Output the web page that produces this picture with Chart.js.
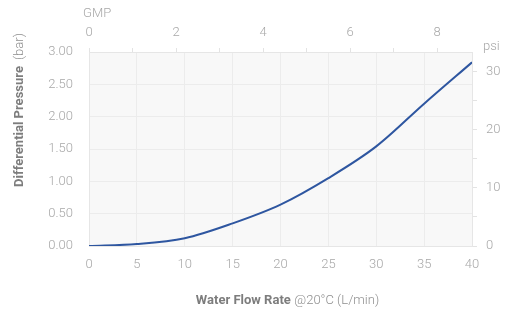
<!DOCTYPE html>
<html><head><meta charset="utf-8">
<script src="https://cdn.jsdelivr.net/npm/chart.js@4.4.1/dist/chart.umd.min.js"></script>
<style>html,body{margin:0;padding:0;background:#fff}#wrap{position:relative;width:514px;height:315px}</style>
</head><body><div id="wrap"><canvas id="c" width="514" height="315"></canvas></div>
<script>
const flowLpm = [0, 5, 10, 15, 20, 25, 30, 35, 40];
const pressureBar = [0, 0.03, 0.12, 0.35, 0.64, 1.05, 1.54, 2.20, 2.84];
const barTicks = [0, 0.5, 1, 1.5, 2, 2.5, 3];
const gmpMax = 8.8;
const psiMax = 33.4;

const FONT = 'Roboto, "Noto Sans", sans-serif';
const tickColor = '#a8a8a8';
const gridColor = '#ececec';
const tickFont = {family: FONT, size: 13, weight: 300};

const extras = {
  id: 'extras',
  beforeDraw(chart) {
    const {ctx, chartArea: a} = chart;
    ctx.save();
    ctx.fillStyle = '#f8f8f8';
    ctx.fillRect(a.left, a.top, a.right - a.left, a.bottom - a.top);
    ctx.restore();
  },
  afterDraw(chart) {
    const ctx = chart.ctx;
    ctx.save();
    ctx.font = '300 13px ' + FONT;
    ctx.fillStyle = tickColor;
    ctx.textBaseline = 'middle';
    ctx.textAlign = 'left';
    ctx.fillText('GMP', 83, 14);
    ctx.fillText('psi', 483, 47);
    // left title (rotated, mixed weight)
    const b1 = 'Differential Pressure', n1 = '(bar)', gap = 6;
    ctx.translate(20, 110);
    ctx.rotate(-Math.PI / 2);
    ctx.font = 'bold 13px ' + FONT;
    const w1 = ctx.measureText(b1).width;
    ctx.font = '300 13px ' + FONT;
    const w2 = ctx.measureText(n1).width;
    let x0 = -(w1 + gap + w2) / 2;
    ctx.font = 'bold 13px ' + FONT; ctx.fillStyle = '#7d7d7d';
    ctx.fillText(b1, x0, 0);
    ctx.font = '300 13px ' + FONT; ctx.fillStyle = '#8f8f8f';
    ctx.fillText(n1, x0 + w1 + gap, 0);
    ctx.setTransform(1, 0, 0, 1, 0, 0);
    // bottom title
    const b2 = 'Water Flow Rate', n2 = '@20°C (L/min)', gap2 = 3.5;
    ctx.font = 'bold 13px ' + FONT;
    const v1 = ctx.measureText(b2).width;
    ctx.font = '300 13px ' + FONT;
    const v2 = ctx.measureText(n2).width;
    let sx = 287.5 - (v1 + gap2 + v2) / 2;
    ctx.font = 'bold 13px ' + FONT; ctx.fillStyle = '#7d7d7d';
    ctx.fillText(b2, sx, 301);
    ctx.font = '300 13px ' + FONT; ctx.fillStyle = '#8f8f8f';
    ctx.fillText(n2, sx + v1 + gap2, 301);
    ctx.restore();
  }
};

new Chart(document.getElementById('c'), {
  type: 'line',
  data: {
    datasets: [{
      data: flowLpm.map((x, i) => ({x, y: pressureBar[i]})),
      borderColor: '#2e56a0',
      borderWidth: 2,
      pointRadius: 0,
      fill: false,
      cubicInterpolationMode: 'monotone',
      yAxisID: 'y',
      xAxisID: 'x'
    }]
  },
  options: {
    responsive: false,
    animation: false,
    events: [],
    layout: {padding: 0},
    plugins: {legend: {display: false}, tooltip: {enabled: false}},
    scales: {
      x: {
        type: 'linear', position: 'bottom', min: 0, max: 40,
        afterFit(s) { s.height = 69; },
        grid: {color: gridColor, drawTicks: false},
        border: {color: '#e6e6e6'},
        ticks: {stepSize: 5, padding: 11, color: tickColor, font: tickFont}
      },
      x2: {
        type: 'linear', position: 'top', min: 0, max: gmpMax,
        afterFit(s) { s.height = 52; },
        grid: {drawOnChartArea: false, color: '#e3e3e3', tickLength: 4},
        border: {color: '#e6e6e6'},
        ticks: {stepSize: 1, includeBounds: false, padding: 7, color: tickColor, font: tickFont,
          callback: v => (v % 2 === 0 ? String(v) : '')}
      },
      y: {
        type: 'linear', position: 'left', min: 0, max: 3,
        afterFit(s) { s.width = 89; },
        grid: {color: gridColor, drawTicks: false},
        border: {color: '#e6e6e6'},
        afterBuildTicks(s) { s.ticks = barTicks.map(v => ({value: v})); },
        ticks: {padding: 16, color: tickColor, font: tickFont,
          callback: v => v.toFixed(2)}
      },
      y2: {
        type: 'linear', position: 'right', min: 0, max: psiMax,
        afterFit(s) { s.width = 42; },
        grid: {drawOnChartArea: false, color: '#e3e3e3', tickLength: 5},
        border: {color: '#e6e6e6'},
        ticks: {stepSize: 5, includeBounds: false, padding: 9, color: tickColor, font: tickFont,
          callback: v => (v % 10 === 0 ? String(v) : '')}
      }
    }
  },
  plugins: [extras]
});
</script></body></html>
